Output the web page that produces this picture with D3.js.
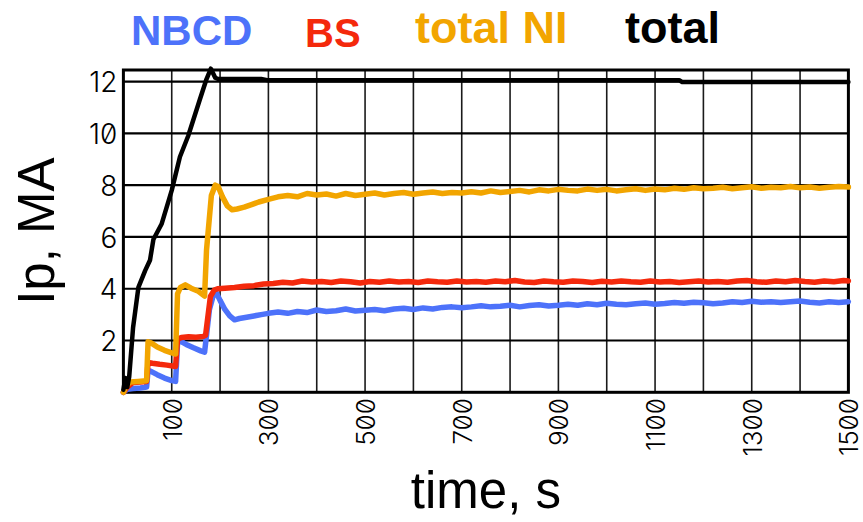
<!DOCTYPE html>
<html>
<head>
<meta charset="utf-8">
<script src="https://cdn.jsdelivr.net/npm/d3@7"></script>
<style>
  html, body { margin: 0; padding: 0; background: #fff; }
  svg { display: block; }
  .tick-label { font-family: "Inter", "Liberation Sans", sans-serif; font-feature-settings: "zero" 1; font-weight: 300; fill: #000; }
  .title { font-family: "Liberation Sans", Arial, sans-serif; fill: #000; }
  .legend { font-family: "Liberation Sans", Arial, sans-serif; font-weight: bold; }
</style>
</head>
<body>
<svg id="chart" width="863" height="522"></svg>
<script>
// Plasma current components over the discharge (time in s, current in MA)
const seriesNames = ["NBCD", "BS", "total NI", "total"];
const seriesColors = ["#4d72fa", "#f4290c", "#f2a500", "#000000"];
const xTickValues = [100, 300, 500, 700, 900, 1100, 1300, 1500];
const yTickValues = [2, 4, 6, 8, 10, 12];

// NBCD current
const nbcd = [
  [0,0.0],[8,0.12],[20,0.15],[35,0.17],[48,0.2],[51,0.85],[58,0.8],[70,0.68],[85,0.55],[100,0.45],[108,0.42],
  [112,1.9],[118,1.98],[130,1.85],[145,1.72],[160,1.6],[168,1.55],[178,3.2],[186,3.75],[192,3.85],[200,3.55],
  [210,3.2],[220,2.95],[230,2.8],[240,2.85],[255,2.9],[270,2.95],[285,3.0],[300,3.05],[320,3.1],[340,3.05],
  [360,3.12],[380,3.08],[400,3.18],[420,3.12],[440,3.15],[460,3.22],[480,3.14],[500,3.17],[520,3.2],[540,3.15],
  [560,3.22],[580,3.25],[600,3.2],[620,3.26],[640,3.22],[660,3.28],[680,3.3],[700,3.27],[720,3.3],[740,3.34],
  [760,3.3],[780,3.32],[800,3.36],[820,3.3],[840,3.35],[860,3.38],[880,3.33],[900,3.36],[920,3.4],[940,3.36],
  [960,3.42],[980,3.38],[1000,3.44],[1020,3.4],[1040,3.38],[1060,3.42],[1080,3.45],[1100,3.4],[1120,3.43],
  [1140,3.47],[1160,3.44],[1180,3.48],[1200,3.46],[1220,3.42],[1240,3.45],[1260,3.5],[1280,3.47],[1300,3.52],
  [1320,3.48],[1340,3.5],[1360,3.47],[1380,3.5],[1400,3.53],[1420,3.48],[1440,3.45],[1460,3.5],[1480,3.47],[1500,3.5]
];

// Bootstrap current
const bs = [
  [0,0.0],[8,0.2],[20,0.38],[35,0.4],[48,0.42],[51,1.15],[60,1.12],[75,1.08],[90,1.05],[108,1.0],[112,2.05],
  [120,2.12],[135,2.15],[150,2.13],[165,2.16],[170,2.2],[180,3.7],[188,3.95],[195,4.0],[210,4.02],[230,4.05],
  [250,4.1],[270,4.12],[290,4.18],[310,4.2],[330,4.25],[350,4.22],[370,4.3],[390,4.26],[410,4.28],[430,4.24],
  [450,4.3],[470,4.27],[490,4.22],[510,4.28],[530,4.25],[550,4.3],[570,4.26],[590,4.28],[610,4.24],[630,4.3],
  [650,4.27],[670,4.25],[690,4.3],[710,4.26],[730,4.28],[750,4.25],[770,4.3],[790,4.27],[810,4.32],[830,4.26],
  [850,4.24],[870,4.3],[890,4.27],[910,4.25],[930,4.3],[950,4.28],[970,4.24],[990,4.29],[1010,4.26],[1030,4.3],
  [1050,4.27],[1070,4.25],[1090,4.3],[1110,4.26],[1130,4.28],[1150,4.24],[1170,4.27],[1190,4.3],[1210,4.26],
  [1230,4.28],[1250,4.25],[1270,4.3],[1290,4.32],[1310,4.27],[1330,4.25],[1350,4.3],[1370,4.27],[1390,4.32],
  [1410,4.28],[1430,4.25],[1450,4.3],[1470,4.27],[1490,4.32],[1500,4.3]
];

// Total non-inductive current
const totalNI = [
  [0,0.0],[6,0.25],[14,0.4],[30,0.42],[48,0.45],[51,1.95],[58,1.9],[70,1.75],[85,1.62],[100,1.52],[108,1.48],
  [112,3.8],[118,4.05],[128,4.15],[140,4.02],[155,3.9],[168,3.72],[172,5.5],[182,7.6],[190,8.0],[196,7.95],
  [205,7.55],[215,7.2],[225,7.05],[235,7.08],[250,7.15],[265,7.25],[280,7.35],[300,7.45],[320,7.55],[340,7.6],
  [360,7.55],[380,7.68],[400,7.62],[420,7.66],[440,7.58],[460,7.68],[480,7.6],[500,7.65],[520,7.7],[540,7.62],
  [560,7.68],[580,7.72],[600,7.65],[620,7.7],[640,7.74],[660,7.68],[680,7.72],[700,7.7],[720,7.75],[740,7.7],
  [760,7.78],[780,7.72],[800,7.76],[820,7.8],[840,7.74],[860,7.82],[880,7.78],[900,7.84],[920,7.8],[940,7.78],
  [960,7.85],[980,7.8],[1000,7.84],[1020,7.78],[1040,7.82],[1060,7.86],[1080,7.8],[1100,7.85],[1120,7.82],
  [1140,7.88],[1160,7.84],[1180,7.9],[1200,7.86],[1220,7.88],[1240,7.92],[1260,7.86],[1280,7.9],[1300,7.94],
  [1320,7.88],[1340,7.92],[1360,7.9],[1380,7.95],[1400,7.9],[1420,7.93],[1440,7.88],[1460,7.92],[1480,7.95],[1500,7.93]
];

// Total plasma current
const total = [
  [0,0.1],[4,0.55],[8,0.2],[12,0.6],[20,2.5],[31,4.05],[45,4.7],[55,5.1],[62,5.9],[79,6.5],[100,7.8],
  [117,9.1],[134,9.9],[158,11.3],[172,12.1],[181,12.5],[190,12.15],[196,12.1],[285,12.1],[300,12.05],
  [1150,12.05],[1156,11.99],[1500,11.99]
];

const seriesData = [nbcd, bs, totalNI, total];
const seriesWidths = [5.5, 5.5, 5.5, 4.5];

const svg = d3.select("#chart");
const plotLeft = 123.4, plotRight = 848.4, plotTop = 70, plotBottom = 392.3;

const x = d3.scaleLinear().domain([0, 1500]).range([plotLeft, plotRight]);
const y = d3.scaleLinear().domain([0, 12.45]).range([plotBottom, plotTop]);

// grid
const grid = svg.append("g");
grid.selectAll("line.v").data(d3.range(100, 1500, 100)).join("line")
  .attr("class", "v")
  .attr("x1", d => x(d)).attr("x2", d => x(d))
  .attr("y1", plotTop).attr("y2", plotBottom)
  .attr("stroke", "#1a1a1a").attr("stroke-width", 1.6);
grid.selectAll("line.h").data(yTickValues).join("line")
  .attr("class", "h")
  .attr("x1", plotLeft).attr("x2", plotRight)
  .attr("y1", d => y(d)).attr("y2", d => y(d))
  .attr("stroke", "#000").attr("stroke-width", 2.2);

// frame
svg.append("rect")
  .attr("x", plotLeft).attr("y", plotTop)
  .attr("width", plotRight - plotLeft).attr("height", plotBottom - plotTop)
  .attr("fill", "none").attr("stroke", "#000").attr("stroke-width", 3);

// axes (labels only; grid and frame carry the lines)
const xAxis = svg.append("g").attr("transform", `translate(0,${plotBottom})`)
  .call(d3.axisBottom(x).tickValues(xTickValues).tickSize(0).tickFormat(d3.format("d")));
xAxis.select(".domain").remove();
xAxis.selectAll("text")
  .attr("class", "tick-label")
  .style("font-size", "26px")
  .attr("text-anchor", "end")
  .attr("transform", "translate(0,6) rotate(-90)")
  .attr("x", 0).attr("y", 0).attr("dy", "0.36em");

const yAxis = svg.append("g").attr("transform", `translate(${plotLeft},0)`)
  .call(d3.axisLeft(y).tickValues(yTickValues).tickSize(0).tickFormat(d3.format("d")));
yAxis.select(".domain").remove();
yAxis.selectAll("text")
  .attr("class", "tick-label")
  .style("font-size", "28px")
  .attr("x", -6).attr("dy", "0.36em");

// series
const line = d3.line().x(d => x(d[0])).y(d => y(d[1]));
seriesData.forEach((data, i) => {
  svg.append("path")
    .datum(data)
    .attr("d", line)
    .attr("fill", "none")
    .attr("stroke", seriesColors[i])
    .attr("stroke-width", seriesWidths[i])
    .attr("stroke-linejoin", "round")
    .attr("stroke-linecap", "round");
});

// axis titles
svg.append("text").attr("class", "title")
  .attr("x", (plotLeft + plotRight) / 2).attr("y", 508)
  .attr("text-anchor", "middle").style("font-size", "51px")
  .text("time, s");
svg.append("text").attr("class", "title")
  .attr("transform", `translate(54,${(plotTop + plotBottom) / 2}) rotate(-90)`)
  .attr("text-anchor", "middle").style("font-size", "51px")
  .text("Ip, MA");

// legend
const legendPos = [[131, 45], [305, 47], [415, 43], [625, 43]];
const legendSizes = [42, 40, 45, 45];
svg.append("g").selectAll("text").data(seriesNames).join("text")
  .attr("class", "legend")
  .attr("x", (d, i) => legendPos[i][0]).attr("y", (d, i) => legendPos[i][1])
  .attr("fill", (d, i) => i === 3 ? "#000" : seriesColors[i])
  .style("font-size", (d, i) => legendSizes[i] + "px")
  .text(d => d);
</script>
</body>
</html>
